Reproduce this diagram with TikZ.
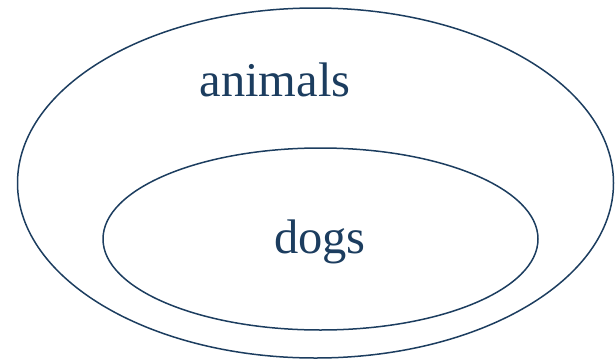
\documentclass[tikz,border=0pt]{standalone}
\usepackage{fontspec}
\setmainfont{Liberation Serif}
\usetikzlibrary{shapes.geometric}
\definecolor{navy}{HTML}{1C3D5F}
\begin{document}
\begin{tikzpicture}[x=1pt,y=-1pt,
  setline/.style={draw=navy,line width=1.5pt,ellipse,inner sep=0pt},
  label/.style={text=navy,font=\fontsize{48.5}{52}\selectfont,anchor=base,inner sep=0pt}]
\useasboundingbox (0,0) rectangle (615,359);
\node[setline,minimum width=596pt,minimum height=350pt] (outer) at (315.5,183) {};
\node[setline,minimum width=435pt,minimum height=182pt] (inner) at (320.5,239) {};
\node[label] (animals) at (275,96) {animals};
\node[label] (dogs) at (320,253) {dogs};
\end{tikzpicture}
\end{document}
